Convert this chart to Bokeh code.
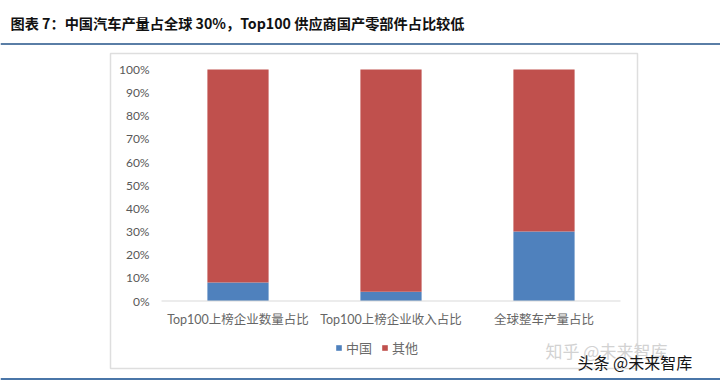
from bokeh.plotting import figure
from bokeh.models import (Range1d, FixedTicker, NumeralTickFormatter,
                          Label, BoxAnnotation, Legend, LegendItem)
from bokeh.embed import file_html
from bokeh.resources import INLINE

# ---- data ----
categories = ["Top100上榜企业数量占比", "Top100上榜企业收入占比", "全球整车产量占比"]
china = [0.08, 0.04, 0.30]
other = [0.92, 0.96, 0.70]
series_names = ["中国", "其他"]
y_ticks = [0.0, 0.1, 0.2, 0.3, 0.4, 0.5, 0.6, 0.7, 0.8, 0.9, 1.0]
title_text = "图表 7：中国汽车产量占全球 30%，Top100 供应商国产零部件占比较低"

BLUE = "#4F81BD"
RED = "#C0504D"
FONT = "Lato, 'Noto Sans CJK SC'"
W, H = 720, 381

x_pos = list(range(len(categories)))

# frame covers the whole canvas; ranges chosen so the plot area sits inside the chart box
p = figure(width=W, height=H, x_range=Range1d(-1.5523, 3.1536), y_range=Range1d(-0.3477, 1.2981),
           output_backend="svg", toolbar_location=None,
           min_border=0, min_border_left=0, min_border_right=0,
           min_border_top=0, min_border_bottom=0)
p.outline_line_color = None
p.xgrid.grid_line_color = None
p.ygrid.grid_line_color = None
p.background_fill_color = "white"
p.border_fill_color = "white"

data = {"x": x_pos, "中国": china, "其他": other}
rs = p.vbar_stack(series_names, x="x", width=0.4, color=[BLUE, RED], source=data,
                  line_color=None)

# baseline of the category axis
p.segment(x0=[x_pos[0] - 0.5], x1=[x_pos[-1] + 0.5], y0=[0], y1=[0],
          line_color="#d9d9d9", line_width=1)

# axes (labels pulled into the canvas with negative standoff)
p.yaxis.ticker = FixedTicker(ticks=y_ticks)
p.yaxis.formatter = NumeralTickFormatter(format="0%")
p.yaxis.axis_line_color = None
p.yaxis.major_tick_line_color = None
p.yaxis.minor_tick_line_color = None
p.yaxis.major_tick_out = 0
p.yaxis.major_tick_in = 0
p.yaxis.major_label_standoff = -149
p.yaxis.major_label_text_font = FONT
p.yaxis.major_label_text_font_size = "12px"
p.yaxis.major_label_text_color = "#595959"

p.xaxis.ticker = FixedTicker(ticks=x_pos)
p.xaxis.major_label_overrides = {i: c for i, c in zip(x_pos, categories)}
p.xaxis.axis_line_color = None
p.xaxis.major_tick_line_color = None
p.xaxis.minor_tick_line_color = None
p.xaxis.major_tick_out = 0
p.xaxis.major_tick_in = 0
p.xaxis.major_label_standoff = -70
p.xaxis.major_label_text_font = FONT
p.xaxis.major_label_text_font_size = "12.5px"
p.xaxis.major_label_text_color = "#666666"

# legend
legend = Legend(items=[LegendItem(label=n, renderers=[r]) for n, r in zip(series_names, rs)],
                orientation="horizontal", location=(335, 23.5),
                glyph_width=7, glyph_height=7, label_standoff=4, spacing=9,
                label_height=20, padding=0, margin=0, border_line_color=None,
                background_fill_alpha=0,
                label_text_font="'Noto Sans CJK SC'", label_text_font_size="13px",
                label_text_color="#6a6a6a")
p.add_layout(legend, "center")

# title, rules and chart box (screen units from the frame's bottom-left)
p.add_layout(Label(x=10, y=H - 22, x_units="screen", y_units="screen", text=title_text,
                   text_font="Noto Sans CJK SC", text_font_style="bold",
                   text_font_size="14.2px", text_color="#111111", text_baseline="middle"))
p.add_layout(BoxAnnotation(left=0, right=W, top=H - 42.5, bottom=H - 44.5,
                           left_units="screen", right_units="screen",
                           top_units="screen", bottom_units="screen",
                           fill_color="#5a7ea6", fill_alpha=1, line_color=None))
p.add_layout(BoxAnnotation(left=110, right=637, top=H - 53, bottom=H - 368,
                           left_units="screen", right_units="screen",
                           top_units="screen", bottom_units="screen",
                           fill_alpha=0, line_color="#dedede", line_width=1.5, line_alpha=1))
p.add_layout(BoxAnnotation(left=0, right=W, top=H - 377.5, bottom=H - 379.5,
                           left_units="screen", right_units="screen",
                           top_units="screen", bottom_units="screen",
                           fill_color="#4a76a8", fill_alpha=1, line_color=None))
p.add_layout(Label(x=545, y=H - 350, x_units="screen", y_units="screen", text="知乎 @未来智库",
                   text_font="Noto Sans CJK SC", text_font_size="17px",
                   text_color="#d2d2d2", text_baseline="middle"))
p.add_layout(Label(x=577, y=H - 361, x_units="screen", y_units="screen", text="头条 @未来智库",
                   text_font="Noto Sans CJK SC", text_font_size="16px",
                   text_color="#151515", text_baseline="middle"))

open("out.html", "w").write(file_html(p, INLINE))
